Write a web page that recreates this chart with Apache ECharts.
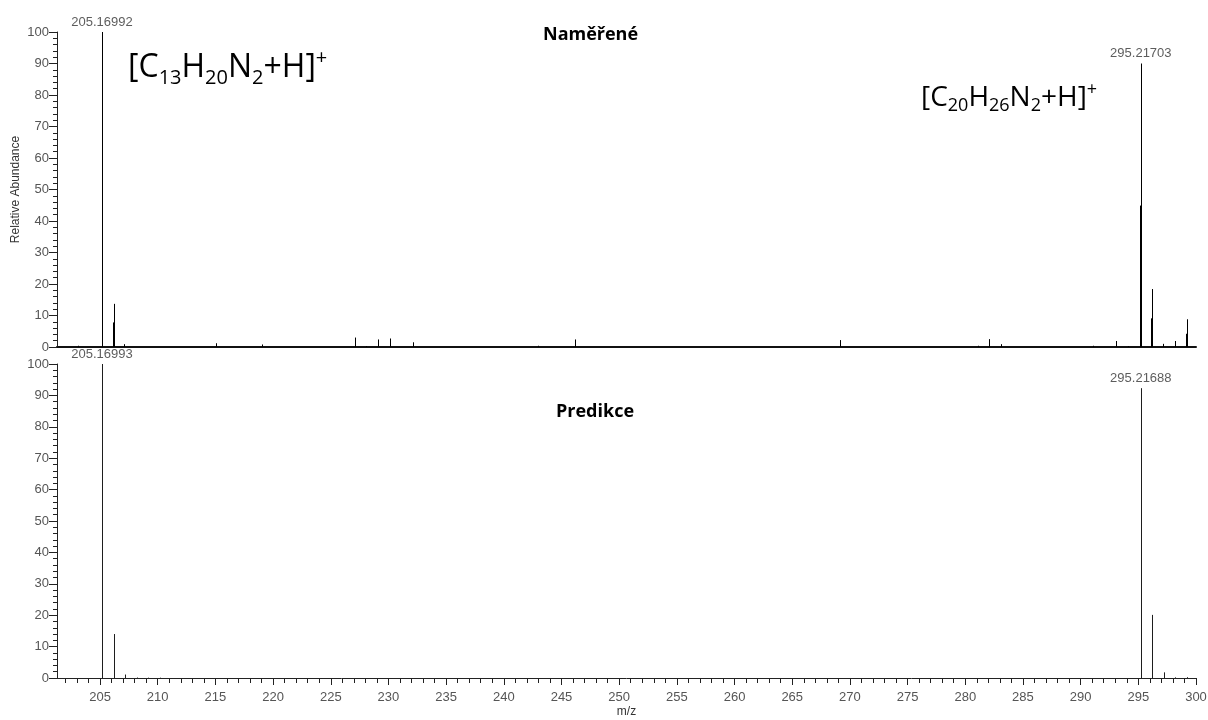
<!DOCTYPE html>
<html><head><meta charset="utf-8">
<script src="https://cdn.jsdelivr.net/npm/echarts@6/dist/echarts.min.js"></script>
<style>html,body{margin:0;padding:0;background:#fff}#c{width:1208px;height:720px}</style>
</head><body><div id="c"></div>
<script>
// ---- data ----
const xMin = 201.27, xMax = 300;
const measuredMz  = [203.1, 205.16992, 206.10, 206.173, 207.1, 215.03, 219.08, 227.09, 228.04, 229.11, 230.12, 232.09, 243.0, 246.17, 269.15, 281.12, 282.08, 282.10, 283.1, 291.07, 293.08, 293.1, 294.14, 295.13, 295.21703, 296.14, 296.22, 297.12, 298.2, 299.1, 299.18];
const measuredInt = [0.4, 100, 7.8, 13.7, 0.9, 1.2, 0.8, 3.0, 0.3, 2.4, 2.7, 1.5, 0.4, 2.4, 2.2, 0.4, 1.0, 2.5, 0.9, 0.4, 0.9, 1.9, 0.3, 44.9, 90.0, 9.1, 18.4, 1.0, 1.9, 4.2, 8.8];
const predictedMz  = [205.16993, 206.173, 207.176, 208.18, 209.18, 210.18, 295.21688, 296.22, 297.22, 298.2, 299.2];
const predictedInt = [100, 14.0, 1.1, 0.15, 0.1, 0.1, 92.3, 20.1, 1.8, 0.2, 0.25];
const measuredLabelMz = [205.16992, 295.21703];
const measuredLabelInt = [100, 90.0];
const measuredLabelText = ['205.16992', '295.21703'];
const predictedLabelMz = [205.16993, 295.21688];
const predictedLabelInt = [100, 92.3];
const predictedLabelText = ['205.16993', '295.21688'];
const majorTicks = [205,210,215,220,225,230,235,240,245,250,255,260,265,270,275,280,285,290,295,300];
const minorTicks = [202,203,204,205,206,207,208,209,210,211,212,213,214,215,216,217,218,219,220,221,222,223,224,225,226,227,228,229,230,231,232,233,234,235,236,237,238,239,240,241,242,243,244,245,246,247,248,249,250,251,252,253,254,255,256,257,258,259,260,261,262,263,264,265,266,267,268,269,270,271,272,273,274,275,276,277,278,279,280,281,282,283,284,285,286,287,288,289,290,291,292,293,294,295,296,297,298,299,300];
const yLabelsMax = 100, yInterval = 10;

// ---- chart ----
const chart = echarts.init(document.getElementById('c'), null, {renderer: 'canvas'});
const tickFont = 'Liberation Sans, Arial, sans-serif';
const zip = (a, b) => a.map((v, i) => [v, b[i]]);
const zip3 = (a, b, c) => a.map((v, i) => [v, b[i], c[i]]);

function stickRenderer(color) {
  return function (params, api) {
    const x = api.value(0), y = api.value(1);
    const p0 = api.coord([x, 0]);
    const p1 = api.coord([x, y]);
    const px = Math.round(p0[0]) + 0.5;
    return {
      type: 'line',
      shape: {x1: px, y1: p0[1], x2: px, y2: p1[1]},
      style: {stroke: color, lineWidth: 1}
    };
  };
}

function yAxisCfg(grid, withName) {
  return {
    type: 'value', gridIndex: grid, min: 0, max: yLabelsMax, interval: yInterval,
    name: withName ? 'Relative Abundance' : '',
    nameLocation: 'middle', nameGap: 35, nameRotate: 90, nameMoveOverlap: false,
    nameTextStyle: {fontFamily: tickFont, fontSize: 12, color: '#333'},
    axisLine: {show: true, lineStyle: {color: '#222', width: 1}},
    axisTick: {show: true, length: 8, lineStyle: {color: '#222'}},
    minorTick: {show: true, splitNumber: 5, length: 4, lineStyle: {color: '#222'}},
    axisLabel: {margin: 8, fontFamily: tickFont, fontSize: 13, color: '#555'},
    splitLine: {show: false}, minorSplitLine: {show: false}
  };
}

const annotStyle = (size, subSize, lh, subLh, supLh) => ({
  fontFamily: 'Open Sans', fontWeight: 'normal', fontSize: size, color: '#000', lineHeight: lh,
  rich: {
    sub: {fontFamily: 'Open Sans', fontWeight: 'normal', fontSize: subSize, lineHeight: subLh, verticalAlign: 'bottom', color: '#000'},
    sup: {fontFamily: 'Open Sans', fontWeight: 'normal', fontSize: subSize, lineHeight: supLh, verticalAlign: 'top', color: '#000'}
  }
});

const option = {
  animation: false,
  backgroundColor: '#fff',
  grid: [
    {left: 57, right: 12, top: 32, height: 315, outerBoundsMode: 'none', containLabel: false},
    {left: 57, right: 12, top: 364, height: 314, outerBoundsMode: 'none', containLabel: false}
  ],
  xAxis: [
    {type: 'value', gridIndex: 0, min: xMin, max: xMax, position: 'bottom',
     axisLine: {show: true, onZero: false, lineStyle: {color: '#111', width: 2}},
     axisTick: {show: false}, axisLabel: {show: false}, splitLine: {show: false}},
    {type: 'value', gridIndex: 1, min: xMin, max: xMax, position: 'bottom',
     name: 'm/z', nameLocation: 'middle', nameGap: 28,
     nameTextStyle: {fontFamily: tickFont, fontSize: 12, color: '#333'},
     axisLine: {show: true, onZero: false, lineStyle: {color: '#222', width: 1}},
     axisTick: {show: true, length: 7, customValues: majorTicks, lineStyle: {color: '#222'}},
     axisLabel: {show: true, customValues: majorTicks, margin: 13, fontFamily: tickFont, fontSize: 13, color: '#555'},
     splitLine: {show: false}},
    {type: 'value', gridIndex: 1, min: xMin, max: xMax, position: 'bottom',
     axisLine: {show: false},
     axisTick: {show: true, length: 5, customValues: minorTicks, lineStyle: {color: '#222'}},
     axisLabel: {show: false}, splitLine: {show: false}}
  ],
  yAxis: [yAxisCfg(0, true), yAxisCfg(1, false)],
  title: [
    {text: 'Naměřené', left: 538, top: 21,
     textStyle: {fontFamily: 'Open Sans', fontWeight: 'bold', fontSize: 18, color: '#000'}},
    {text: 'Predikce', left: 551, top: 398,
     textStyle: {fontFamily: 'Open Sans', fontWeight: 'bold', fontSize: 18, color: '#000'}},
    {text: '[C{sub|13}H{sub|20}N{sub|2}+H]{sup|+}', left: 123, top: 43,
     textStyle: annotStyle(32, 20, 40, 25, 12)},
    {text: '[C{sub|20}H{sub|26}N{sub|2}+H]{sup|+}', left: 916, top: 76,
     textStyle: annotStyle(28, 18, 34, 21, 10)}
  ],
  series: [
    {type: 'custom', name: 'Naměřené', xAxisIndex: 0, yAxisIndex: 0, clip: true,
     renderItem: stickRenderer('#000'), data: zip(measuredMz, measuredInt)},
    {type: 'custom', name: 'Predikce', xAxisIndex: 1, yAxisIndex: 1, clip: true,
     renderItem: stickRenderer('#1e1e1e'), data: zip(predictedMz, predictedInt)},
    {type: 'scatter', xAxisIndex: 0, yAxisIndex: 0, symbolSize: 1,
     itemStyle: {color: 'rgba(0,0,0,0)'},
     label: {show: true, position: 'top', distance: 3, formatter: p => p.value[2],
       fontFamily: tickFont, fontSize: 13, color: '#333'},
     data: zip3(measuredLabelMz, measuredLabelInt, measuredLabelText)},
    {type: 'scatter', xAxisIndex: 1, yAxisIndex: 1, symbolSize: 1,
     itemStyle: {color: 'rgba(0,0,0,0)'},
     label: {show: true, position: 'top', distance: 3, formatter: p => p.value[2],
       fontFamily: tickFont, fontSize: 13, color: '#333'},
     data: zip3(predictedLabelMz, predictedLabelInt, predictedLabelText)}
  ]
};
chart.setOption(option);
</script>
</body></html>
